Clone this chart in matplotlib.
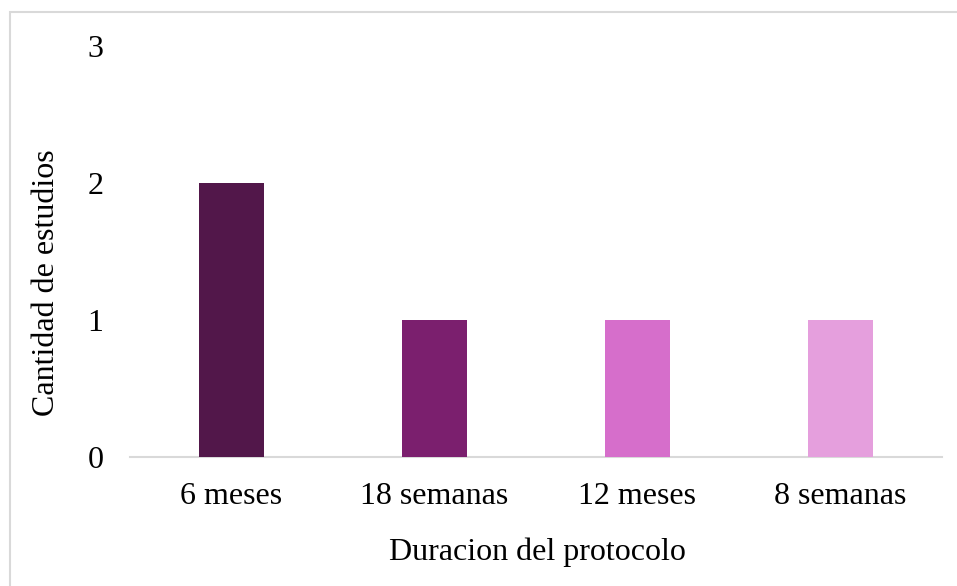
import matplotlib
matplotlib.use("Agg")
import matplotlib.pyplot as plt
from matplotlib.patches import Rectangle

categories = ["6 meses", "18 semanas", "12 meses", "8 semanas"]
values = [2, 1, 1, 1]
colors = ["#52174A", "#7B1F6E", "#D66ECB", "#E59FDD"]
yticks = [0, 1, 2, 3]

plt.rcParams['font.family'] = ['Liberation Serif', 'DejaVu Serif']

FS = 23
W, H = 957, 586
fig = plt.figure(figsize=(W / 100, H / 100), dpi=100)
ax = fig.add_axes([130 / W, 1 - 457 / H, 812 / W, 411 / H])

x = list(range(len(categories)))
ax.bar(x, values, width=0.325, color=colors, zorder=3)
ax.set_xlim(-0.5, len(categories) - 0.5)
ax.set_ylim(0, 3)
ax.set_yticks(yticks)
ax.set_yticklabels([str(t) for t in yticks], fontsize=FS)
ax.set_xticks(x)
ax.set_xticklabels(categories, fontsize=FS)
ax.tick_params(axis='both', length=0)
ax.tick_params(axis='y', pad=19)
ax.tick_params(axis='x', pad=18)
for s in ['top', 'right', 'left']:
    ax.spines[s].set_visible(False)
ax.spines['bottom'].set_color('#D9D9D9')
ax.spines['bottom'].set_linewidth(1.5)

fig.text(537 / W, 1 - 552 / H, "Duracion del protocolo", ha='center', va='center', fontsize=FS)
fig.text(47 / W, 1 - 283 / H, "Cantidad de estudios", ha='center', va='center',
         rotation=90, fontsize=FS)

fig.patches.append(Rectangle((10 / W, -0.1), 1.2, 1 - 12 / H + 0.1,
                             transform=fig.transFigure, fill=False,
                             edgecolor='#D9D9D9', linewidth=1.5))

fig.savefig("out.png", dpi=100)
